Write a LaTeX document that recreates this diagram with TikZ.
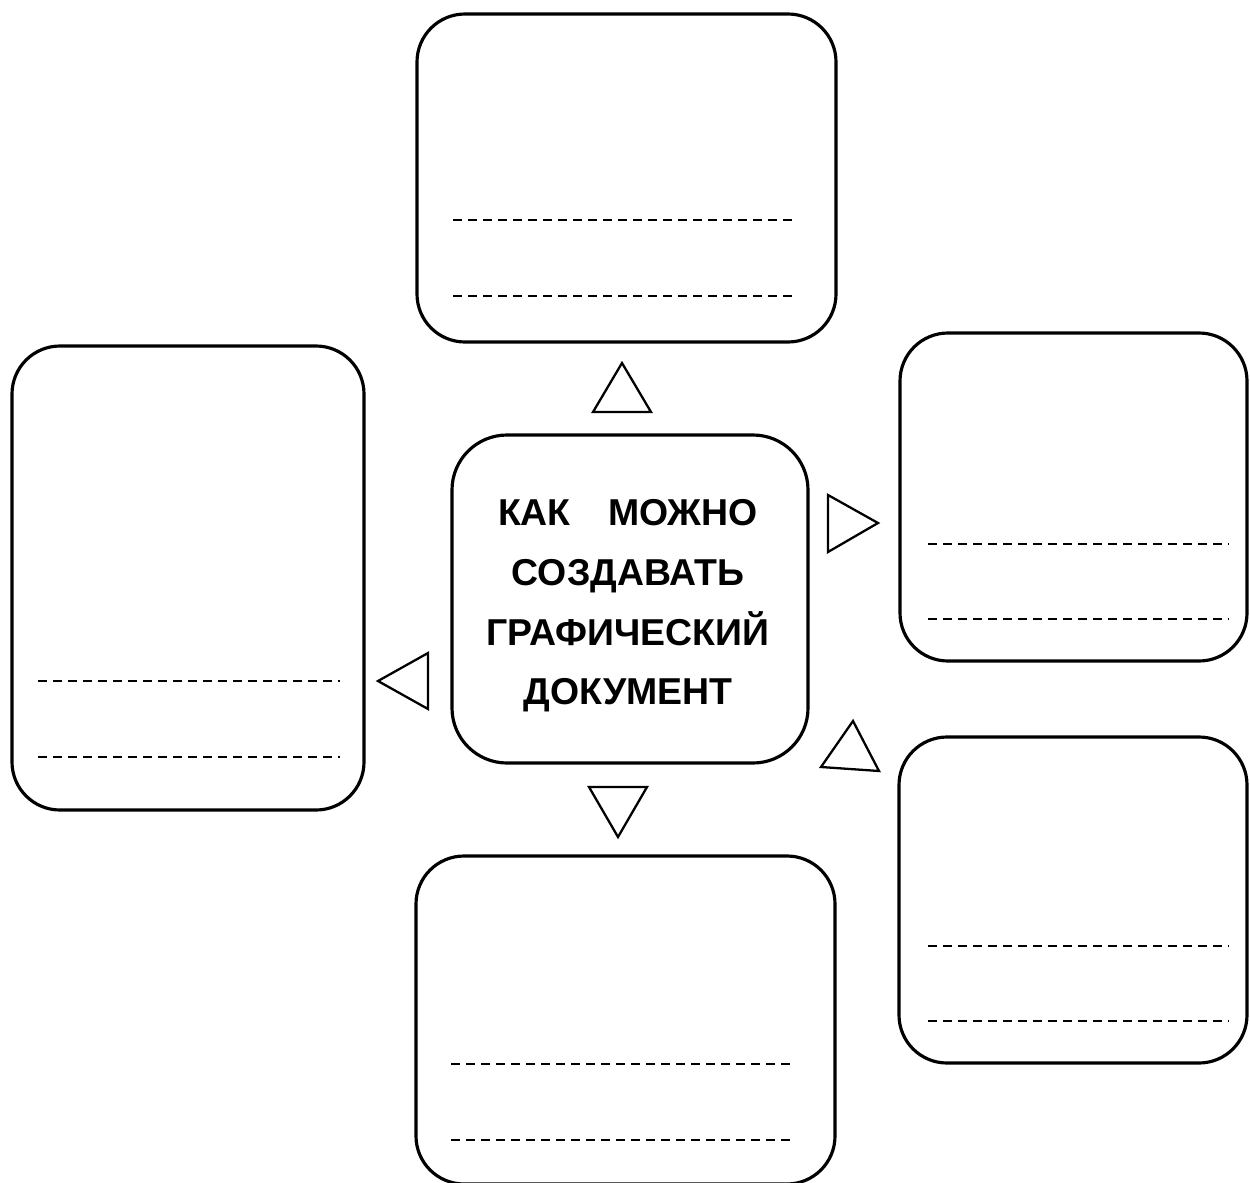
\documentclass[tikz,border=0pt]{standalone}
\usepackage{fontspec}
\setmainfont{Liberation Sans}
\begin{document}
\begin{tikzpicture}[x=0.2mm,y=-0.2mm,
	box/.style={draw, rounded corners=9.6mm, line width=1.8pt, inner sep=0pt},
	dots/.style={line width=1.6pt, dash pattern=on 1.8mm off 1.2mm},
	tri/.style={line width=1.3pt, line join=miter}]
	\clip (0,0) rectangle (1250,1182);
	% the boxes
	\node[box, minimum width=83.8mm, minimum height=65.6mm] (up) at (626.5,178) {};
	\node[box, minimum width=70.4mm, minimum height=92.8mm] (left) at (188,578) {};
	\node[box, minimum width=69.4mm, minimum height=65.6mm] (right1) at (1073.5,497) {};
	\node[box, minimum width=69.6mm, minimum height=65.2mm] (right2) at (1073,900) {};
	\node[box, minimum width=83.8mm, minimum height=65.6mm] (down) at (625.5,1020) {};
	\node[box, rounded corners=11mm, minimum width=71.2mm, minimum height=65.6mm] (mid) at (630,599) {};
	\node[align=center, font=\bfseries\fontsize{21.3}{34}\selectfont] (title) at (628,606)
		{КАК\quad МОЖНО\\СОЗДАВАТЬ\\ГРАФИЧЕСКИЙ\\ДОКУМЕНТ};
	% lines to write on
	\foreach \xa/\xb/\ya/\yb in {453/798/220/296, 38/340/681/757, 928/1229/544/619,
		928/1229/946/1021, 451/796/1064/1140}
		\draw[dots] (\xa,\ya) -- (\xb,\ya) (\xa,\yb) -- (\xb,\yb);
	% the triangles
	\draw[tri] (622,363) -- (593,412) -- (651,412) -- cycle;
	\draw[tri] (828,495) -- (878,523) -- (828,552) -- cycle;
	\draw[tri] (378,681) -- (428,653) -- (428,709) -- cycle;
	\draw[tri] (589,787) -- (647,787) -- (618,837) -- cycle;
	\draw[tri] (853,721) -- (879,771) -- (821,767) -- cycle;
\end{tikzpicture}
\end{document}
